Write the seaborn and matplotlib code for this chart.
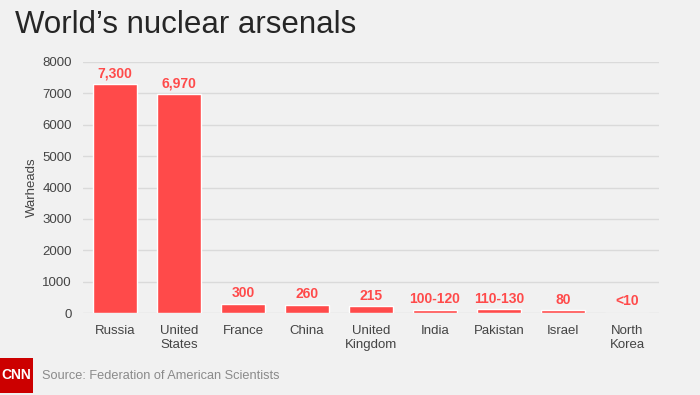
import seaborn as sns
import matplotlib.pyplot as plt
from matplotlib.patches import Rectangle

countries = ['Russia', 'United\nStates', 'France', 'China', 'United\nKingdom',
             'India', 'Pakistan', 'Israel', 'North\nKorea']
warheads = [7300, 6970, 300, 260, 215, 110, 120, 80, 10]
value_labels = ['7,300', '6,970', '300', '260', '215', '100-120', '110-130', '80', '<10']
yticks = [0, 1000, 2000, 3000, 4000, 5000, 6000, 7000, 8000]

bg = '#f1f1f1'
red = '#ff4a4a'

sns.set_style('white')
plt.rcParams['font.family'] = ['Liberation Sans', 'DejaVu Sans']

fig = plt.figure(figsize=(7, 3.95), dpi=100, facecolor=bg)
ax = fig.add_axes([83 / 700, 1 - 313 / 395, 576 / 700, 251 / 395])
ax.set_facecolor(bg)

sns.barplot(x=countries, y=warheads, color=red, width=0.69, saturation=1, ax=ax, zorder=3)

ax.set_ylim(0, 8000)
ax.set_xlim(-0.5, len(countries) - 0.5)
ax.set_yticks(yticks)
ax.set_yticklabels([str(t) for t in yticks])
ax.grid(axis='y', color='#dadada', linewidth=1, zorder=0)
for s in ax.spines.values():
    s.set_visible(False)
ax.tick_params(axis='y', length=0, pad=8, labelsize=9.5, labelcolor='#444444')
ax.tick_params(axis='x', length=0, pad=9, labelsize=9.5, labelcolor='#444444')
ax.set_ylabel('Warheads', fontsize=9.5, color='#444444', labelpad=3)
ax.set_xlabel('')

for i, (v, lab) in enumerate(zip(warheads, value_labels)):
    ax.text(i, max(v, 40) + 110, lab, ha='center', va='bottom', color=red,
            fontsize=10, fontweight='bold', zorder=4)

fig.text(15 / 700, 1 - 25 / 395, 'World\u2019s nuclear arsenals', fontsize=22.5,
         color='#262626', va='center', ha='left')

fig.patches.append(Rectangle((0, 2 / 395), 33 / 700, 35 / 395, transform=fig.transFigure,
                             facecolor='#cc0000', edgecolor='none'))
fig.text(16.5 / 700, 1 - 375 / 395, 'CNN', fontsize=10, fontweight='bold', color='white',
         ha='center', va='center')
fig.text(42 / 700, 1 - 376 / 395, 'Source: Federation of American Scientists',
         fontsize=9.2, color='#8a8a8a', ha='left', va='center')

fig.savefig('out.png', dpi=100, facecolor=bg)
